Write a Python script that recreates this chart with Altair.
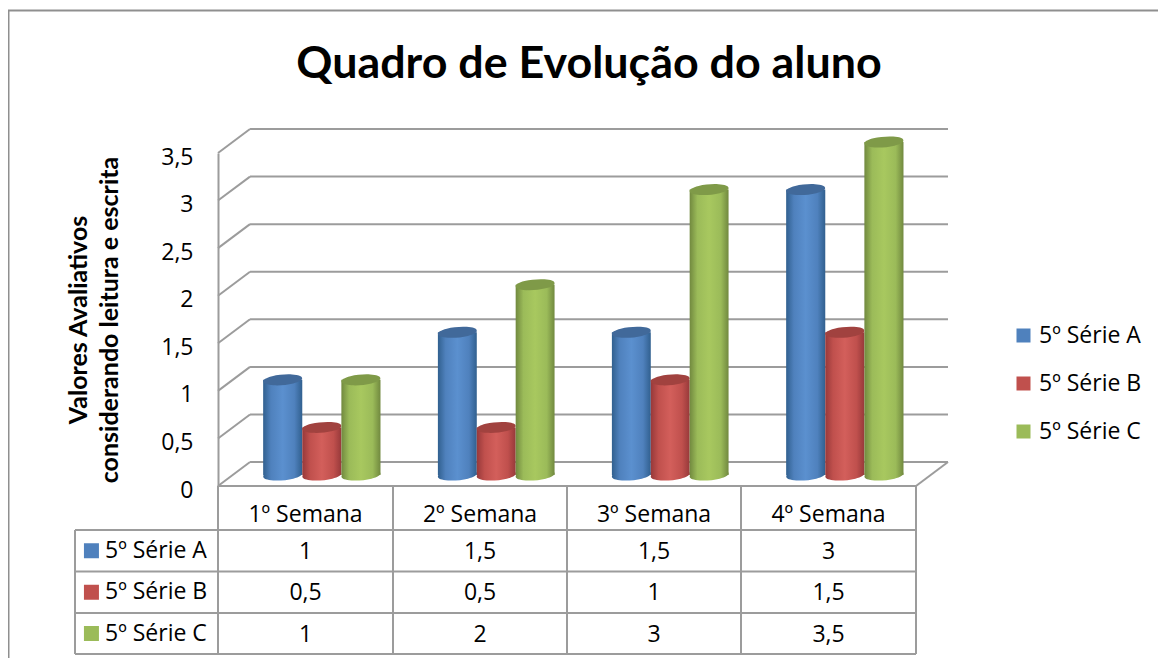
import altair as alt
import pandas as pd

weeks = ["1º Semana", "2º Semana", "3º Semana", "4º Semana"]
series = ["5º Série A", "5º Série B", "5º Série C"]
serie_a = [1, 1.5, 1.5, 3]
serie_b = [0.5, 0.5, 1, 1.5]
serie_c = [1, 2, 3, 3.5]
values_by_series = [serie_a, serie_b, serie_c]
grid_values = [0, 0.5, 1, 1.5, 2, 2.5, 3, 3.5]

BODY = ["#4f81bd", "#c0504d", "#9bbb59"]
LIGHT = ["#5b90cf", "#d35f5b", "#a8c85f"]
EDGE = ["#31608f", "#97393a", "#71893f"]
CAP = ["#41699a", "#a1423f", "#7f9a48"]
GRID = "#9c9c9c"
FONT = "Open Sans"
TITLE_FONT = "Lato"
TEXT_SIZE = 23

WIDTH, HEIGHT = 1150, 648

x_scale = alt.Scale(domain=[-1, 0, 1, 2, 3, 4, 4.183],
                    range=[67, 210, 385, 559, 733, 908, 940], nice=False, zero=False)
y_scale = alt.Scale(domain=[0, 3.5], range=[476, 143], nice=False, zero=False)
row_scale = alt.Scale(domain=[0, 1, 2, 3, 4], range=[476, 520, 561.5, 603, 644], nice=False, zero=False)

DEPTH_X = 0.183
DEPTH_Y = 0.252
BAR_START = 0.258
BAR_W = 0.2235

X = lambda f: alt.X(f"{f}:Q", scale=x_scale, axis=None)
Y = lambda f: alt.Y(f"{f}:Q", scale=y_scale, axis=None)
R = lambda f: alt.Y(f"{f}:Q", scale=row_scale, axis=None)

# page frame (top and left only, as in the source picture)
frame = alt.layer(
    alt.Chart(pd.DataFrame({"a": [0]})).mark_rule(color="#8f8f8f", strokeWidth=2).encode(
        x=alt.value(0), x2=alt.value(WIDTH), y=alt.value(0.5)),
    alt.Chart(pd.DataFrame({"a": [0]})).mark_rule(color="#8f8f8f", strokeWidth=2).encode(
        x=alt.value(0.5), y=alt.value(0), y2=alt.value(HEIGHT)),
)

# walls and floor
gdf = pd.DataFrame({"v": grid_values})
gdf["x0"] = 0.0
gdf["xd"] = DEPTH_X
gdf["xe"] = 4 + DEPTH_X
gdf["vb"] = gdf["v"] + DEPTH_Y

walls_axis = alt.Chart(gdf).mark_rule(color=GRID, strokeWidth=2).encode(
    x=X("x0"), x2="xd:Q",
    y=alt.Y("v:Q", scale=y_scale, axis=alt.Axis(
        values=grid_values, labelExpr="replace('' + datum.value, '.', ',')",
        title=["Valores Avaliativos", "considerando leitura e escrita"],
        titleFont=TITLE_FONT, titleFontSize=25, titleFontWeight="bold", titleColor="black",
        titleLineHeight=31, titlePadding=38,
        labelFont=FONT, labelFontSize=TEXT_SIZE, labelColor="black", labelPadding=25, labelOffset=4,
        ticks=False, grid=False, offset=-210, domainColor=GRID, domainWidth=2)),
    y2="vb:Q")
back_lines = alt.Chart(gdf).mark_rule(color=GRID, strokeWidth=2).encode(
    x=X("xd"), x2="xe:Q", y=Y("vb"))
floor_df = pd.DataFrame({"x": [4.0], "xd": [4 + DEPTH_X], "y": [0.0], "yb": [DEPTH_Y], "xs": [0.0]})
floor_side = alt.Chart(floor_df).mark_rule(color=GRID, strokeWidth=2).encode(
    x=X("x"), x2="xd:Q", y=Y("y"), y2="yb:Q")

# cylinders
ELLIPSE = "M-0.995,0.09 A1,0.26 -5 1 1 0.995,-0.09 A1,0.26 -5 1 1 -0.995,0.09 Z"
CYL_SIZE = 39 ** 2
cylinders = []
for s, name in enumerate(series):
    df = pd.DataFrame({"week": weeks, "value": values_by_series[s], "i": range(4)})
    df["x0"] = df["i"] + BAR_START + s * BAR_W
    df["x1"] = df["x0"] + BAR_W
    df["xc"] = df["x0"] + BAR_W / 2
    df["base"] = 0.0
    grad = alt.Gradient(gradient="linear", x1=0, x2=1, y1=0, y2=0, stops=[
        alt.GradientStop(color=EDGE[s], offset=0),
        alt.GradientStop(color=BODY[s], offset=0.2),
        alt.GradientStop(color=LIGHT[s], offset=0.5),
        alt.GradientStop(color=BODY[s], offset=0.8),
        alt.GradientStop(color=EDGE[s], offset=1)])
    cylinders.append(alt.Chart(df).mark_point(
        shape=ELLIPSE, size=CYL_SIZE, filled=True, fill=grad, opacity=1, strokeWidth=0,
        yOffset=-11).encode(x=X("xc"), y=Y("base")))
    cylinders.append(alt.Chart(df).mark_rect(
        fill=grad, yOffset=-11, y2Offset=-11).encode(
        x=X("x0"), x2="x1:Q", y=Y("value"), y2="base:Q"))
    cylinders.append(alt.Chart(df).mark_point(
        shape=ELLIPSE, size=CYL_SIZE, filled=True, fill=CAP[s], opacity=1, strokeWidth=0,
        yOffset=-11).encode(x=X("xc"), y=Y("value")))

# table grid
h_df = pd.DataFrame({"r": [0, 1, 2, 3, 4], "a": [0, -1, -1, -1, -1], "b": [4, 4, 4, 4, 4]})
v_df = pd.DataFrame({"c": [-1, 0, 1, 2, 3, 4], "t": [1, 0, 0, 0, 0, 0], "e": [4, 4, 4, 4, 4, 4]})
h_rules = alt.Chart(h_df).mark_rule(color=GRID, strokeWidth=2).encode(x=X("a"), x2="b:Q", y=R("r"))
v_rules = alt.Chart(v_df).mark_rule(color=GRID, strokeWidth=2).encode(x=X("c"), y=R("t"), y2="e:Q")

# table text
hdr = pd.DataFrame({"t": weeks, "c": [i + 0.5 for i in range(4)], "r": [0.65] * 4})
rows = []
for s, name in enumerate(series):
    for i, v in enumerate(values_by_series[s]):
        rows.append({"t": str(v).replace(".", ","), "c": i + 0.5, "r": s + 1.53})
cells = pd.DataFrame(rows)
labels = pd.DataFrame({"t": series, "c": [-0.79] * 3, "r": [1.5, 2.5, 3.5]})
swatch = pd.DataFrame({"serie": series, "c": [-0.885] * 3, "r": [1.5, 2.5, 3.5]})

text_kw = dict(font=FONT, fontSize=TEXT_SIZE, color="black", baseline="middle")
hdr_t = alt.Chart(hdr).mark_text(align="center", **text_kw).encode(x=X("c"), y=R("r"), text="t:N")
cell_t = alt.Chart(cells).mark_text(align="center", **text_kw).encode(x=X("c"), y=R("r"), text="t:N")
lab_t = alt.Chart(labels).mark_text(align="left", **text_kw).encode(x=X("c"), y=R("r"), text="t:N")
swatches = alt.Chart(swatch).mark_point(shape="square", size=225, filled=True, opacity=1, strokeWidth=0).encode(
    x=X("c"), y=R("r"),
    color=alt.Color("serie:N", scale=alt.Scale(domain=series, range=BODY),
                    legend=alt.Legend(orient="none", legendX=1004, legendY=314, title=None,
                                      symbolType="square", symbolSize=196, symbolStrokeWidth=0,
                                      labelFont=FONT, labelFontSize=TEXT_SIZE, labelColor="black",
                                      rowPadding=24, labelOffset=4)))

chart = alt.layer(
    frame, walls_axis, back_lines, floor_side, *cylinders,
    h_rules, v_rules, hdr_t, cell_t, lab_t, swatches,
).resolve_scale(y="independent").properties(
    width=WIDTH, height=HEIGHT,
    padding={"left": 0, "top": 2, "right": 0, "bottom": 0},
    autosize=alt.AutoSizeParams(type="none"),
    title=alt.TitleParams("Quadro de Evolução do aluno", font=TITLE_FONT, fontSize=44.8, fontWeight="bold",
                          color="black", anchor="middle", dx=6, dy=83),
).configure_view(stroke=None)

chart.save("out.html", embed_options={"renderer": "svg", "actions": False})
